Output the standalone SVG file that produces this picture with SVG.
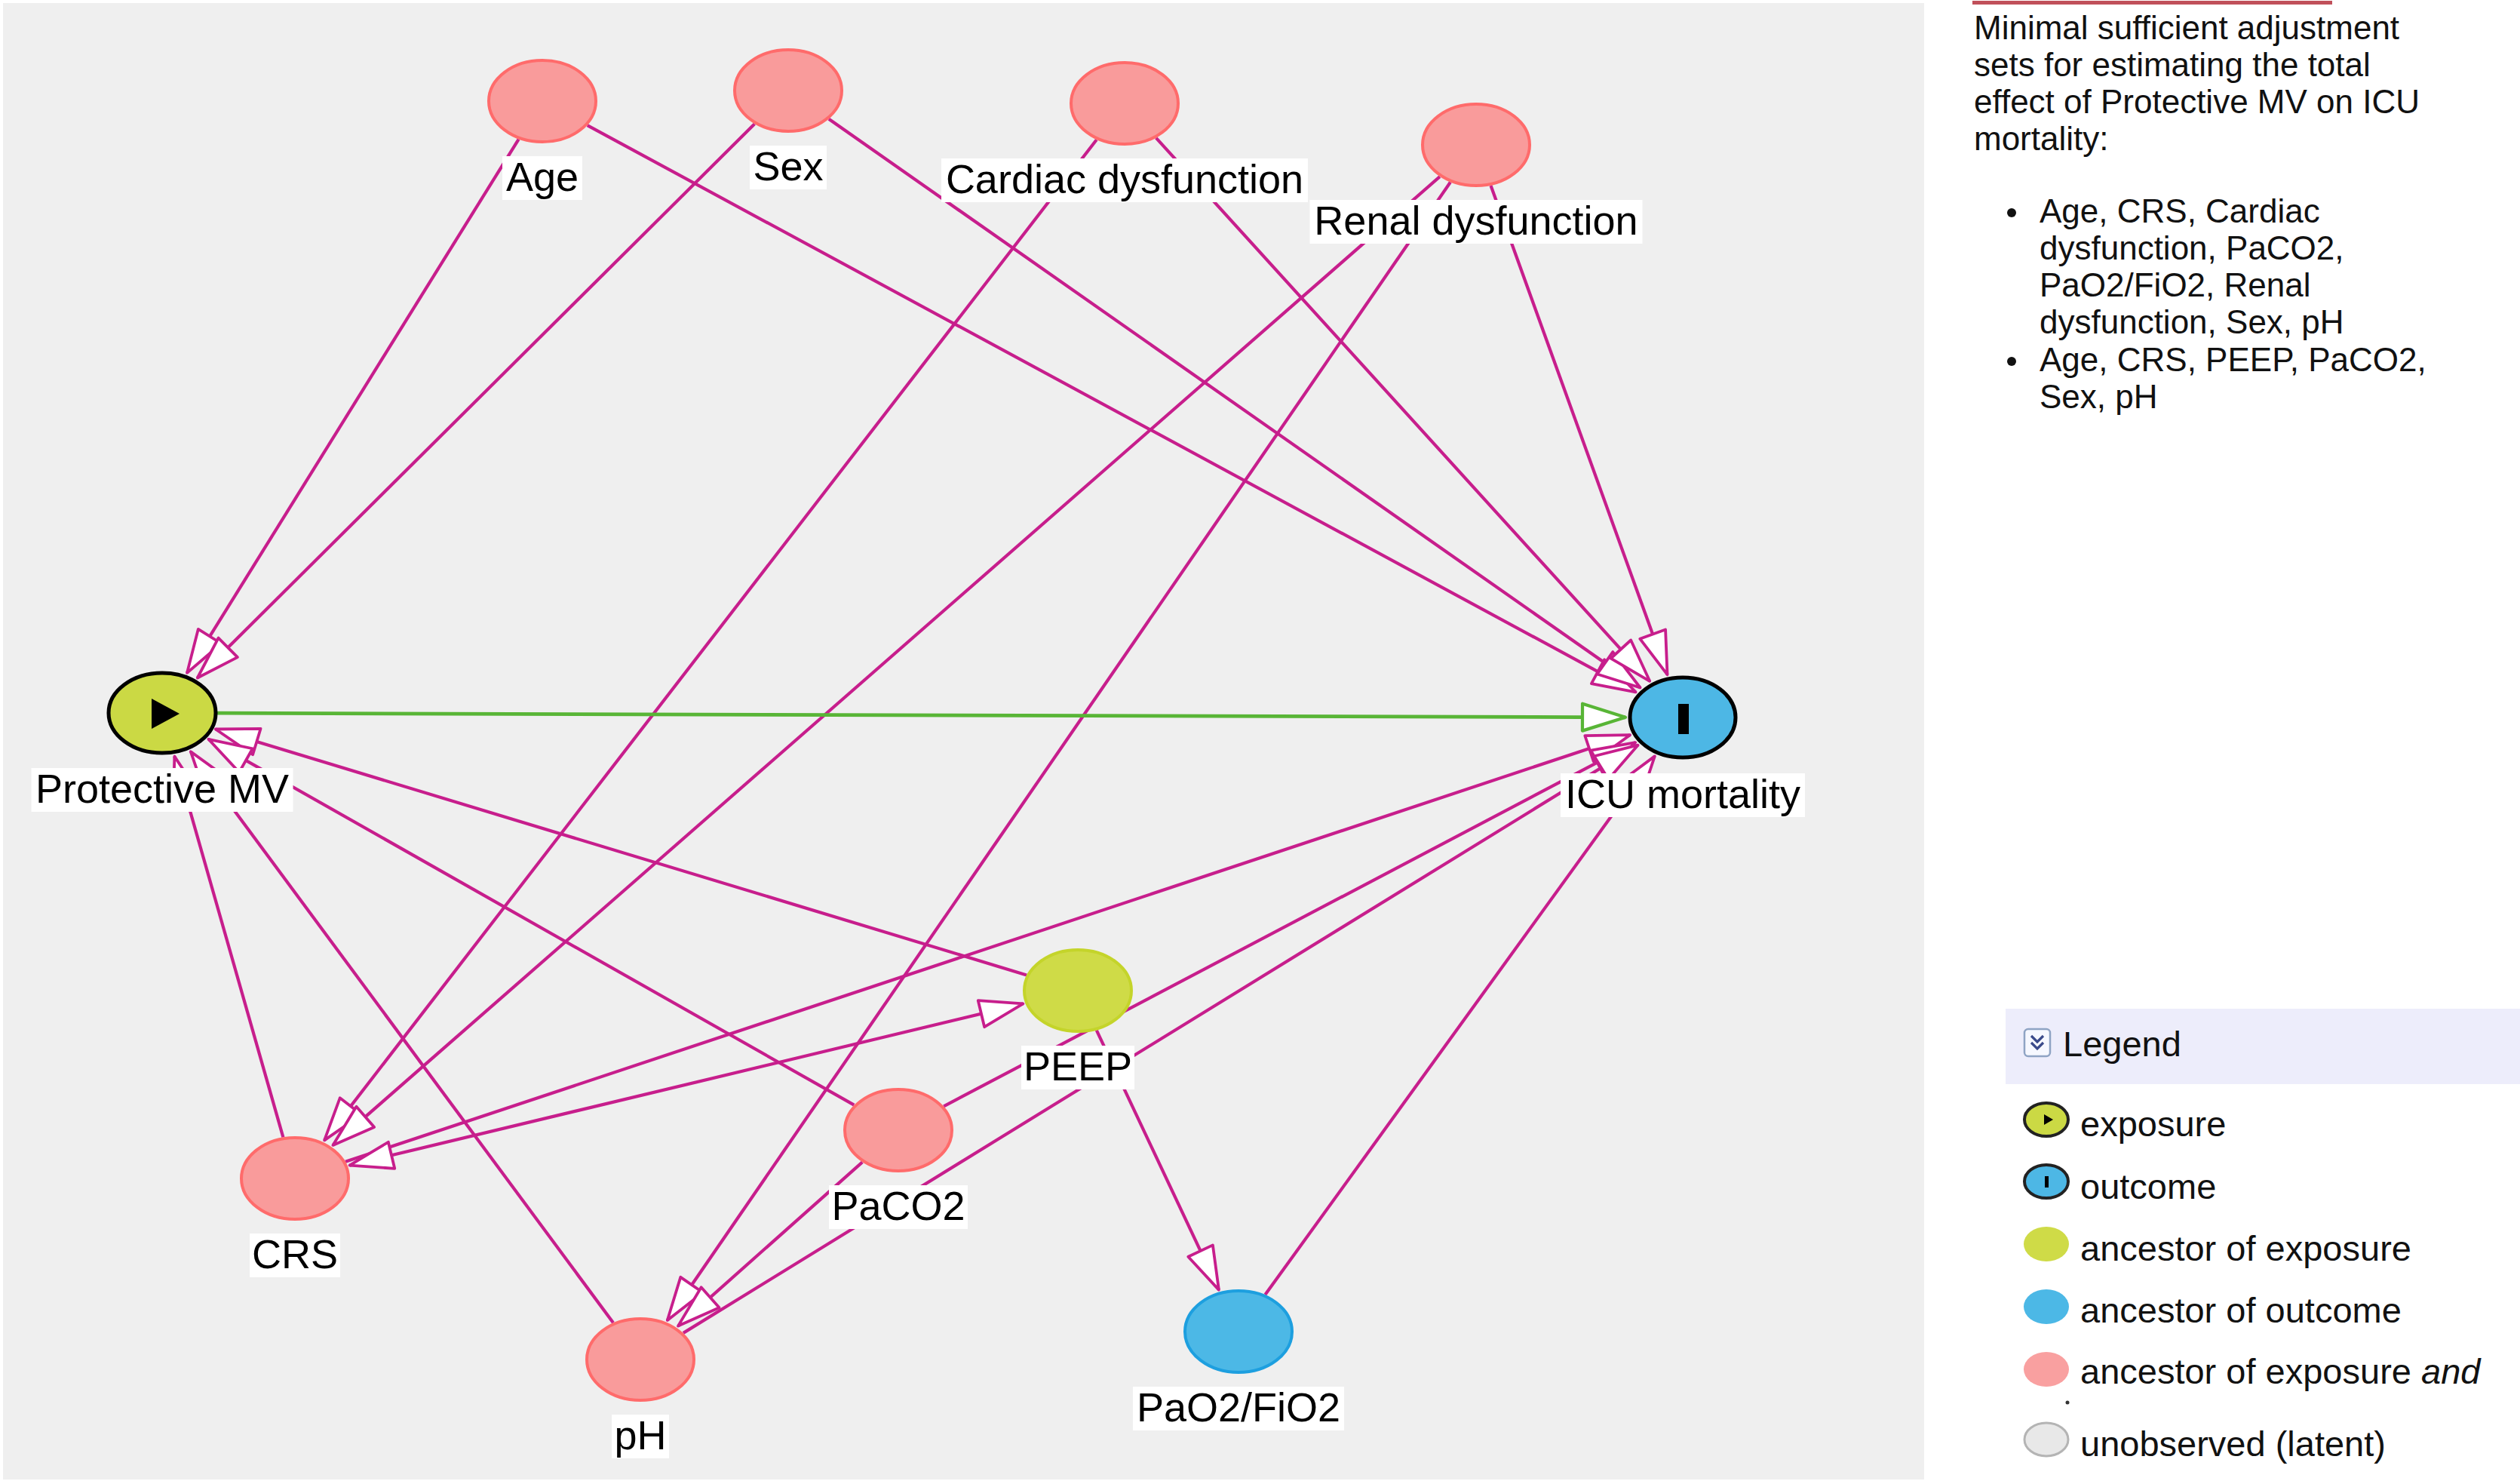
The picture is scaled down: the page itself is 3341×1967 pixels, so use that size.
<svg xmlns="http://www.w3.org/2000/svg" width="3341" height="1967" viewBox="0 0 3341 1967">
<style>
.e{stroke:#c71e8c;stroke-width:4.2;fill:none;marker-end:url(#ah)}
.g{stroke:#58b536;stroke-width:4.8;fill:none;marker-end:url(#ahg)}
.lbl{font-family:"Liberation Sans",Arial,sans-serif;font-size:54px;text-anchor:middle;fill:#000}
.lb{fill:#fff}
.anc{fill:#f99b9b;stroke:#ff6b6b;stroke-width:4}
.ancx{fill:#cfdb47;stroke:#c4d42a;stroke-width:4}
.anco{fill:#4cb8e6;stroke:#1d9fdf;stroke-width:4}
.exp{fill:#cbd944;stroke:#000;stroke-width:5}
.out{fill:#4db7e5;stroke:#000;stroke-width:5}
.pt{font-family:"Liberation Sans",Arial,sans-serif;font-size:44px;fill:#111}
.lg{font-family:"Liberation Sans",Arial,sans-serif;font-size:47px;fill:#111}
</style>
<defs>
<marker id="ah" viewBox="-62 -24 66 48" markerWidth="66" markerHeight="48" markerUnits="userSpaceOnUse" refX="0" refY="0" orient="auto-start-reverse" overflow="visible">
<path d="M0,0 L-57,-18 L-57,18 Z" fill="#fff" stroke="#c71e8c" stroke-width="3.8" stroke-linejoin="round"/>
</marker>
<marker id="ahg" viewBox="-62 -24 66 48" markerWidth="66" markerHeight="48" markerUnits="userSpaceOnUse" refX="0" refY="0" orient="auto" overflow="visible">
<path d="M0,0 L-57,-18 L-57,18 Z" fill="#fff" stroke="#58b536" stroke-width="4.2" stroke-linejoin="round"/>
</marker>
</defs>
<rect x="0" y="0" width="3341" height="1967" fill="#fff"/>
<rect x="4" y="4" width="2547" height="1957" fill="#efefef"/>
<rect x="2615" y="1" width="477" height="5" fill="#c0505a"/>

<g id="connectors">
<path class="e" d="M687.6,184.6 L248.0,891.9"/>
<path class="e" d="M1000.4,164.3 L261.8,898.5"/>
<path class="e" d="M778.7,166.2 L2168.6,917.3"/>
<path class="e" d="M1098.9,157.8 L2174.6,911.5"/>
<path class="e" d="M1532.8,182.9 L2187.2,902.8"/>
<path class="e" d="M1976.5,246 L2210.5,894.2"/>
<path class="e" d="M1453.8,185.2 L430.1,1511.4"/>
<path class="e" d="M1908.9,234.1 L441.4,1517.9"/>
<path class="e" d="M1922.9,241.5 L884.8,1750"/>
<path class="g" d="M288,945.2 L2155,950.8"/>
<path class="e" d="M1361.1,1292.4 L285.8,966.5"/>
<path class="e" d="M1132.3,1464.7 L276.4,979.8"/>
<path class="e" d="M813,1753.3 L252.8,996.2"/>
<path class="e" d="M375.4,1507.3 L231.4,1002.6"/>
<path class="e" d="M458,1539.8 L2161.1,974.2"/>
<path class="e" d="M1251.2,1466.3 L2168.1,984.1"/>
<path class="e" d="M905.9,1766.9 L2171.5,987.7"/>
<path class="e" d="M1677.4,1716 L2193.8,1002.4"/>
<path class="e" d="M463.6,1544.6 L1356.4,1330.4" marker-start="url(#ah)"/>
<path class="e" d="M1143.3,1540.4 L899,1757.6"/>
<path class="e" d="M1453.8,1365.7 L1615.9,1709.6"/>
</g>

<g id="node-age">
<ellipse class="anc" cx="719" cy="134" rx="71" ry="54"/>
<rect class="lb" x="666" y="207" width="106" height="58"/>
<text class="lbl" x="719" y="253">Age</text>
</g>
<g id="node-sex">
<ellipse class="anc" cx="1045" cy="120" rx="71" ry="54"/>
<rect class="lb" x="994" y="193" width="102" height="58"/>
<text class="lbl" x="1045" y="239">Sex</text>
</g>
<g id="node-cardiac">
<ellipse class="anc" cx="1491" cy="137" rx="71" ry="54"/>
<rect class="lb" x="1248" y="210" width="486" height="58"/>
<text class="lbl" x="1491" y="256">Cardiac dysfunction</text>
</g>
<g id="node-renal">
<ellipse class="anc" cx="1957" cy="192" rx="71" ry="54"/>
<rect class="lb" x="1736.5" y="265" width="441" height="58"/>
<text class="lbl" x="1957" y="311">Renal dysfunction</text>
</g>
<g id="node-protective-mv">
<ellipse class="exp" cx="215" cy="945" rx="71" ry="53"/>
<path d="M201,926 L201,966 L238,946 Z" fill="#000"/>
<rect class="lb" x="41.5" y="1018" width="347" height="58"/>
<text class="lbl" x="215" y="1064">Protective MV</text>
</g>
<g id="node-icu-mortality">
<ellipse class="out" cx="2231" cy="951" rx="70" ry="53"/>
<rect x="2225" y="933" width="14" height="40" fill="#000"/>
<rect class="lb" x="2069" y="1025" width="324" height="58"/>
<text class="lbl" x="2231" y="1071">ICU mortality</text>
</g>
<g id="node-peep">
<ellipse class="ancx" cx="1429" cy="1313" rx="71" ry="54"/>
<rect class="lb" x="1354" y="1386" width="150" height="58"/>
<text class="lbl" x="1429" y="1432">PEEP</text>
</g>
<g id="node-paco2">
<ellipse class="anc" cx="1191" cy="1498" rx="71" ry="54"/>
<rect class="lb" x="1099" y="1571" width="184" height="58"/>
<text class="lbl" x="1191" y="1617">PaCO2</text>
</g>
<g id="node-crs">
<ellipse class="anc" cx="391" cy="1562" rx="71" ry="54"/>
<rect class="lb" x="331" y="1635" width="120" height="58"/>
<text class="lbl" x="391" y="1681">CRS</text>
</g>
<g id="node-ph">
<ellipse class="anc" cx="849" cy="1802" rx="71" ry="54"/>
<rect class="lb" x="811" y="1875" width="76" height="58"/>
<text class="lbl" x="849" y="1921">pH</text>
</g>
<g id="node-pao2fio2">
<ellipse class="anco" cx="1642" cy="1765" rx="71" ry="54"/>
<rect class="lb" x="1502" y="1838" width="280" height="58"/>
<text class="lbl" x="1642" y="1884">PaO2/FiO2</text>
</g>

<g id="adjustment-sets">
<text class="pt" x="2617" y="52">Minimal sufficient adjustment</text>
<text class="pt" x="2617" y="101">sets for estimating the total</text>
<text class="pt" x="2617" y="150">effect of Protective MV on ICU</text>
<text class="pt" x="2617" y="199">mortality:</text>
<circle cx="2667" cy="282" r="6" fill="#111"/>
<text class="pt" x="2704" y="295">Age, CRS, Cardiac</text>
<text class="pt" x="2704" y="344">dysfunction, PaCO2,</text>
<text class="pt" x="2704" y="393">PaO2/FiO2, Renal</text>
<text class="pt" x="2704" y="442">dysfunction, Sex, pH</text>
<circle cx="2667" cy="479" r="6" fill="#111"/>
<text class="pt" x="2704" y="492">Age, CRS, PEEP, PaCO2,</text>
<text class="pt" x="2704" y="541">Sex, pH</text>
</g>

<g id="legend">
<rect x="2659" y="1337" width="682" height="100" fill="#ededfb"/>
<rect x="2684" y="1364" width="34" height="36" rx="5" fill="#f6f8ff" stroke="#8fa4c4" stroke-width="2.5"/>
<path d="M2693,1373 l8,8 l8,-8 M2693,1382 l8,8 l8,-8" fill="none" stroke="#3a4a8a" stroke-width="3.2"/>
<text class="lg" x="2735" y="1400">Legend</text>
<ellipse cx="2713" cy="1484" rx="29" ry="22" fill="#cbd944" stroke="#222" stroke-width="4"/>
<path d="M2710,1477 L2710,1491 L2722,1484 Z" fill="#000"/>
<text class="lg" x="2758" y="1506">exposure</text>
<ellipse cx="2713" cy="1566" rx="29" ry="22" fill="#4db7e5" stroke="#222" stroke-width="4"/>
<rect x="2711" y="1559" width="5" height="15" fill="#000"/>
<text class="lg" x="2758" y="1589">outcome</text>
<ellipse cx="2713" cy="1649" rx="30" ry="23" fill="#cfdb47"/>
<text class="lg" x="2758" y="1671">ancestor of exposure</text>
<ellipse cx="2713" cy="1732" rx="30" ry="23" fill="#4cb8e6"/>
<text class="lg" x="2758" y="1753">ancestor of outcome</text>
<ellipse cx="2713" cy="1815" rx="30" ry="23" fill="#f9a0a0"/>
<text class="lg" x="2758" y="1834">ancestor of exposure <tspan font-style="italic">and</tspan></text>
<circle cx="2741" cy="1859" r="2.5" fill="#333"/>
<ellipse cx="2713" cy="1908" rx="29" ry="22" fill="#e8e8e8" stroke="#b4b4b4" stroke-width="3"/>
<text class="lg" x="2758" y="1930">unobserved (latent)</text>
</g>
</svg>
